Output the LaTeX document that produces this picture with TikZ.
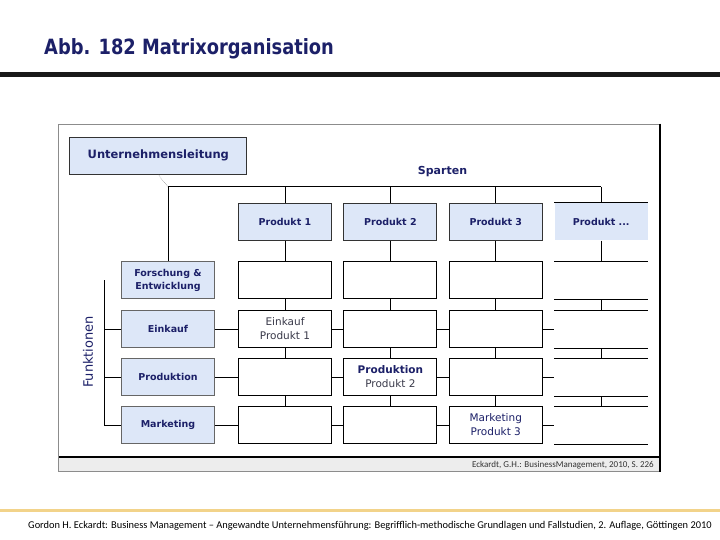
\documentclass[tikz,border=0pt]{standalone}
\usepackage{fontspec}
\setmainfont{DejaVu Sans}
\newfontfamily\titlefont[FakeStretch=0.85]{DejaVu Sans}
\newfontfamily\footfont{Carlito}
\definecolor{navy}{HTML}{1C2068}
\definecolor{boxblue}{HTML}{DDE7F8}
\definecolor{footline}{HTML}{F2D38A}
\definecolor{textgray}{HTML}{3A3A4A}
\tikzset{
  unit/.style={draw=black!80, fill=boxblue, line width=1pt, minimum width=93pt,
    minimum height=37pt, inner sep=0pt, align=center,
    font=\bfseries\fontsize{9.5}{13}\selectfont, text=navy},
  cell/.style={draw=black, fill=white, line width=1pt, minimum width=93pt,
    minimum height=37pt, inner sep=0pt},
  opencell/.style={cell, draw=none},
  celltext/.style={align=center, inner sep=0pt,
    font=\fontsize{10.5}{14}\selectfont, text=textgray},
  link/.style={line width=1pt, black},
}
\begin{document}
\begin{tikzpicture}[x=1pt,y=-1pt]
  \useasboundingbox (0,0) rectangle (720,540);

  %Title and rules
  \node[anchor=base west, inner sep=0pt, text=navy,
    font=\titlefont\bfseries\fontsize{21}{24}\selectfont] (title) at (44,55) {Abb. 182 Matrixorganisation};
  \draw[line width=4.4pt, black!90] (0,74.5) -- (720,74.5);
  \draw[line width=3.5pt, footline] (0,510.7) -- (720,510.7);
  \node[anchor=base west, inner sep=0pt, text=black,
    font=\footfont\fontsize{10.4}{12}\selectfont] (foot) at (28,528.5)
    {Gordon H. Eckardt: Business Management – Angewandte Unternehmensführung: Begrifflich-methodische Grundlagen und Fallstudien, 2. Auflage, Göttingen 2010};

  %Frame
  \fill[black!7] (59,457) rectangle (660,471.5);
  \draw[black!45, line width=1.2pt] (58.5,471.5) -- (58.5,124.3) -- (660,124.3);
  \draw[black!45, line width=1pt] (58.5,471.5) -- (660,471.5);
  \draw[line width=2pt] (59,457) -- (660,457);
  \draw[line width=2pt] (660,123.7) -- (660,472);
  \node[anchor=east, inner sep=0pt, text=black!80,
    font=\footfont\fontsize{9}{10}\selectfont] (src) at (654,465)
    {Eckardt, G.H.: BusinessManagement, 2010, S. 226};

  %Head and labels
  \node[unit, minimum width=176.7pt, font=\bfseries\fontsize{11.5}{13}\selectfont] (ul) at (158.3,155.7) {Unternehmensleitung};
  \node[text=navy, font=\bfseries\fontsize{11}{13}\selectfont] (sparten) at (442.5,172) {Sparten};
  \node[rotate=90, text=navy, font=\fontsize{13}{15}\selectfont] (funktionen) at (88,352) {Funktionen};

  %Sparten
  \foreach \lab [count=\i] in {Produkt 1, Produkt 2, Produkt 3}
    \node[unit] (p\i) at ({285+105.4*(\i-1)},221.7) {\lab};
  \node[unit, draw=none] (p4) at (601.2,221.7) {Produkt ...};
  \draw[link] (p4.north west) -- (p4.north east);

  %Funktionen
  \foreach \lab/\y [count=\j] in {{Forschung \&\\Entwicklung}/280, Einkauf/329, Produktion/377, Marketing/425}
    \node[unit, draw=black!60] (f\j) at (168,\y) {\lab};

  %Matrix cells
  \foreach \y [count=\j] in {280, 329, 377, 425} {
    \foreach \i in {1,2,3}
      \node[cell] (c\i\j) at ({285+105.4*(\i-1)},\y) {};
    \node[opencell] (c4\j) at (601.2,\y) {};
    \draw[link] (c4\j.north west) -- (c4\j.north east)
      (c4\j.south west) -- (c4\j.south east);
  }
  \node[celltext] (t12) at (c12) {Einkauf\\Produkt 1};
  \node[celltext] (t23) at (c23) {{\bfseries\color{navy}Produktion}\\Produkt 2};
  \node[celltext, text=navy] (t34) at (c34) {Marketing\\Produkt 3};

  %Connectors
  \coordinate (knee) at (168,187);
  \coordinate (brtop) at (104.3,280);
  \draw[black!70, densely dotted, thin] (ul.south) -- (knee);
  \draw[link] (knee) -- (f1.north);
  \draw[link] (knee) -- (knee -| p4.north);
  \foreach \i in {1,...,4} {
    \draw[link] (p\i.north |- knee) -- (p\i.north);
    \draw[link] (p\i.south) -- (c\i1.north);
    \foreach \j/\k in {1/2, 2/3, 3/4}
      \draw[link] (c\i\j.south) -- (c\i\k.north);
  }
  \draw[link] (brtop) -- (brtop |- f4.west);
  \foreach \j in {2,3,4} {
    \draw[link] (f\j.west -| brtop) -- (f\j.west);
    \draw[link] (f\j.east) -- (c1\j.west);
    \draw[link] (c1\j.east) -- (c2\j.west);
    \draw[link] (c2\j.east) -- (c3\j.west);
    \draw[link] (c3\j.east) -- (c4\j.west);
  }
\end{tikzpicture}
\end{document}
